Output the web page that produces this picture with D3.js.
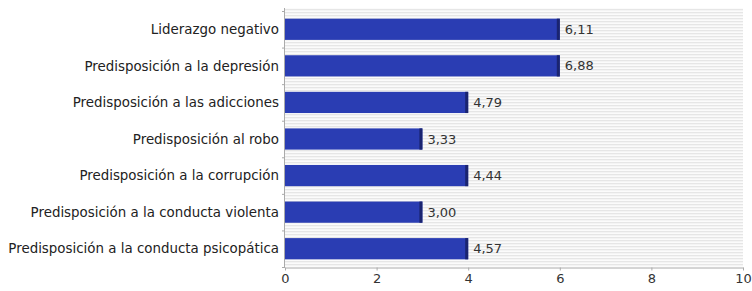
<!DOCTYPE html>
<html>
<head>
<meta charset="utf-8">
<script src="https://cdn.jsdelivr.net/npm/d3@7"></script>
<style>
body { margin: 0; background: #fff; }
text { font-family: "DejaVu Sans", sans-serif; }
</style>
</head>
<body>
<div id="chart"></div>
<script>
var categories = ["Liderazgo negativo", "Predisposición a la depresión", "Predisposición a las adicciones",
  "Predisposición al robo", "Predisposición a la corrupción", "Predisposición a la conducta violenta",
  "Predisposición a la conducta psicopática"];
// bar lengths as drawn in the picture (whole units) and the printed scores
var barValues = [6, 6, 4, 3, 4, 3, 4];
var scores = [6.11, 6.88, 4.79, 3.33, 4.44, 3.00, 4.57];
var xTicks = [0, 2, 4, 6, 8, 10];

var W = 752, H = 291;
var m = {top: 11, right: 9, bottom: 24, left: 285};
var svg = d3.select("#chart").append("svg").attr("width", W).attr("height", H);

var defs = svg.append("defs");
var pat = defs.append("pattern").attr("id", "stripes").attr("patternUnits", "userSpaceOnUse")
  .attr("width", 6).attr("height", 3);
pat.append("rect").attr("width", 6).attr("height", 3).attr("fill", "#fbfbfb");
pat.append("rect").attr("width", 6).attr("height", 1.3).attr("fill", "#e6e6e6");

var x = d3.scaleLinear().domain([0, 10]).range([m.left, W - m.right]);
var y = d3.scaleBand().domain(categories).range([m.top, H - m.bottom]).paddingInner(0.42).paddingOuter(0.21);

svg.append("rect").attr("x", m.left).attr("y", m.top - 3).attr("width", W - m.right - m.left)
  .attr("height", H - m.bottom - m.top + 3).attr("fill", "url(#stripes)");

var g = svg.append("g");
g.selectAll("rect.bar").data(categories).enter().append("rect").attr("class", "bar")
  .attr("x", x(0)).attr("y", function(d){ return y(d); })
  .attr("width", function(d, i){ return x(barValues[i]) - x(0); })
  .attr("height", y.bandwidth()).attr("fill", "#2a3db3");
g.selectAll("rect.edge").data(categories).enter().append("rect").attr("class", "edge")
  .attr("x", function(d, i){ return x(barValues[i]) - 3; }).attr("y", function(d){ return y(d); })
  .attr("width", 3).attr("height", y.bandwidth()).attr("fill", "#1a2470");
g.selectAll("text.val").data(categories).enter().append("text").attr("class", "val")
  .attr("x", function(d, i){ return x(barValues[i]) + 5; })
  .attr("y", function(d){ return y(d) + y.bandwidth() / 2; })
  .attr("dy", "0.35em").attr("font-size", 13).attr("fill", "#333")
  .text(function(d, i){ return scores[i].toFixed(2).replace(".", ","); });

// category labels
svg.selectAll("text.cat").data(categories).enter().append("text").attr("class", "cat")
  .attr("x", m.left - 6).attr("y", function(d){ return y(d) + y.bandwidth() / 2; })
  .attr("dy", "0.35em").attr("text-anchor", "end").attr("font-size", 13.4).attr("fill", "#222")
  .text(function(d){ return d; });

// left axis line and ticks at band edges
var step = y.step();
svg.append("line").attr("x1", m.left - 0.5).attr("x2", m.left - 0.5).attr("y1", m.top - 3).attr("y2", H - m.bottom)
  .attr("stroke", "#aaa");
svg.selectAll("line.ytick").data(d3.range(categories.length + 1)).enter().append("line").attr("class", "ytick")
  .attr("x1", m.left - 3).attr("x2", m.left)
  .attr("y1", function(i){ return m.top + i * step + 0.5; }).attr("y2", function(i){ return m.top + i * step + 0.5; })
  .attr("stroke", "#aaa");

// bottom axis
var xAxis = d3.axisBottom(x).tickValues(xTicks).tickSize(3).tickSizeOuter(0);
var ax = svg.append("g").attr("transform", "translate(0," + (H - m.bottom + 0.5) + ")").call(xAxis);
ax.select(".domain").attr("stroke", "#aaa");
ax.selectAll(".tick line").attr("stroke", "#aaa");
ax.selectAll(".tick text").attr("font-size", 13).attr("fill", "#333").attr("y", 6)
  .style("font-family", "DejaVu Sans, sans-serif");
</script>
</body>
</html>
